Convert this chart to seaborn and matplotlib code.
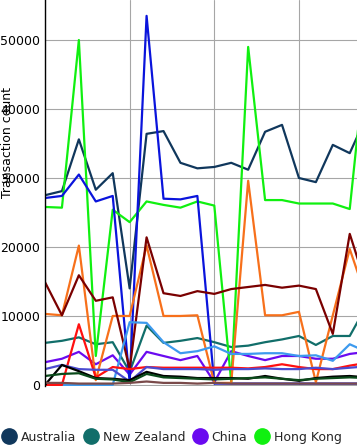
import matplotlib as mpl
import matplotlib.pyplot as plt
import numpy as np
import pandas as pd
import seaborn as sns
from matplotlib.lines import Line2D

mpl.use('Agg')

# period index (the chart is cropped on the right)
periods = list(range(20))

# series values
australia = [27500, 28100, 35600, 28300, 30700, 14000, 36400, 36800, 32200, 31400,
             31600, 32200, 31200, 36700, 37700, 30000, 29400, 34800, 33600, 39000]
new_zealand = [6100, 6400, 6900, 5900, 6200, 1900, 8600, 6100, 6400, 6800,
               6200, 5500, 5700, 6200, 6600, 7100, 5800, 7100, 7100, 11500]
china = [3300, 3800, 4800, 3000, 4300, 1500, 4800, 4200, 3600, 4200,
         400, 4900, 4200, 3600, 4200, 4200, 3800, 3800, 4500, 4800]
hong_kong = [25800, 25700, 50000, 4200, 25400, 23600, 26600, 26100, 25700, 26600,
             26000, 400, 49000, 26800, 26800, 26300, 26300, 26300, 25500, 49000]
series_blue = [27100, 27400, 30500, 26600, 27400, 400, 53500, 27000, 26900, 27400,
               200, 200, 200, 200, 200, 200, 200, 200, 200, 200]
series_orange = [10300, 10100, 20200, 700, 10000, 10000, 20200, 10000, 10000, 10100,
                 300, 300, 29600, 10100, 10100, 10600, 400, 10100, 19700, 12500]
series_maroon = [14900, 10100, 15900, 12200, 12700, 2300, 21400, 13300, 12900, 13600,
                 13200, 13900, 14200, 14500, 14100, 14400, 13900, 7400, 21900, 14200]
series_lightblue = [0, 0, 0, 0, 0, 9100, 9000, 6200, 4600, 4900,
                    5600, 4500, 4500, 4600, 4600, 4200, 4300, 3500, 5900, 4800]
series_red = [0, 0, 8800, 1100, 2600, 2300, 2600, 2500, 2500, 2500,
              2500, 2500, 2400, 2600, 3000, 2600, 2300, 2300, 2800, 3200]
series_slate = [2300, 2900, 2300, 2200, 2200, 500, 2600, 2300, 2300, 2300,
                2200, 2300, 2300, 2400, 2300, 2300, 2500, 2300, 2500, 2700]
series_black = [0, 2900, 2000, 1000, 900, 700, 1900, 1300, 1200, 1000,
                1000, 1000, 900, 1300, 900, 600, 1000, 1200, 1300, 1100]
series_darkgreen = [1300, 1600, 1700, 900, 800, 400, 1600, 1100, 1000, 900,
                    800, 900, 1000, 1100, 900, 700, 900, 1000, 1100, 1000]
series_brown = [300, 300, 200, 200, 200, 300, 500, 300, 300, 200,
                300, 200, 200, 200, 200, 200, 200, 200, 200, 200]

legend_names = ['Australia', 'New Zealand', 'China', 'Hong Kong']
series = {
    'Australia': australia,
    'New Zealand': new_zealand,
    'China': china,
    'Hong Kong': hong_kong,
    'series 5': series_blue,
    'series 6': series_orange,
    'series 7': series_maroon,
    'series 8': series_lightblue,
    'series 9': series_red,
    'series 10': series_slate,
    'series 11': series_black,
    'series 12': series_darkgreen,
    'series 13': series_brown,
}
colors = ['#10375c', '#116e6a', '#6a0af0', '#10f010', '#0a14dc', '#f7701b', '#7a0000',
          '#3d9aee', '#ff1010', '#4b4bd0', '#000000', '#0a4a1a', '#7a4a4a']

df = pd.DataFrame([
    {'period': p, 'count': v, 'country': name}
    for name, values in series.items()
    for p, v in zip(periods, values)
])

sns.set_theme(style='whitegrid', rc={'grid.color': '#a6a6a6', 'grid.linewidth': 0.8})
plt.rcParams['font.family'] = ['DejaVu Sans']

fig = plt.figure(figsize=(3.57, 4.48), dpi=100)
ax = fig.add_axes([45 / 357, 62 / 448, 312 / 357, 386 / 448])

sns.lineplot(data=df, x='period', y='count', hue='country', palette=colors,
             linewidth=1.6, legend=False, ax=ax)

# axes styling
ax.set_xlim(0, 312 / 16.93)
ax.set_ylim(-150, 55800)
ax.set_xticks([0, 5, 10, 15])
ax.set_xticklabels([])
ax.set_yticks([0, 10000, 20000, 30000, 40000, 50000])
ax.tick_params(axis='y', length=0, pad=3.5, labelsize=9, labelcolor='black')
ax.tick_params(axis='x', length=0)
ax.set_xlabel('')
ax.set_ylabel('Transaction count', fontsize=9, color='black')
ax.yaxis.set_label_coords(-0.098, 0.63)
for side in ['top', 'right', 'bottom']:
    ax.spines[side].set_visible(False)
ax.spines['left'].set_color('black')
ax.spines['left'].set_linewidth(1.0)
ax.set_facecolor('white')

# legend (only the first entries fit on the canvas)
handles = [Line2D([], [], marker='o', linestyle='none', markersize=11,
                  markerfacecolor=c, markeredgecolor=c) for c in colors[:4]]
fig.legend(handles, legend_names, loc='center left', bbox_to_anchor=(3 / 357, 11 / 448),
           ncol=4, frameon=False, fontsize=9, handletextpad=0.45, columnspacing=0.65,
           handlelength=1.0, borderaxespad=0, borderpad=0)

plt.savefig('out.png', dpi=100)
plt.close()
